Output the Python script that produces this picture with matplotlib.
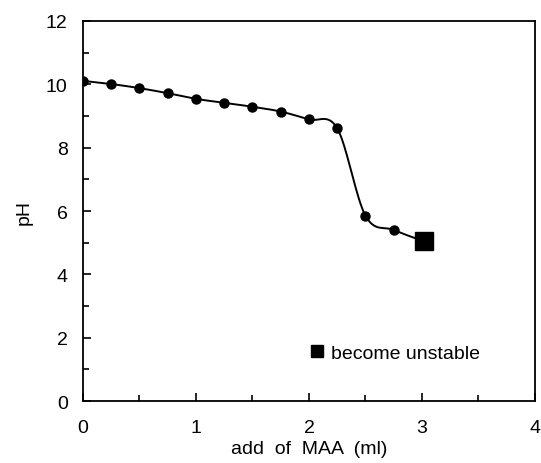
import numpy as np
import matplotlib.pyplot as plt
from matplotlib.ticker import MultipleLocator

plt.rcParams['font.family'] = ['Liberation Sans', 'DejaVu Sans']

# datos
maa = [0, 0.25, 0.5, 0.75, 1.0, 1.25, 1.5, 1.75, 2.0, 2.25, 2.5, 2.75]
ph = [10.11, 10.01, 9.88, 9.72, 9.54, 9.42, 9.29, 9.14, 8.89, 8.61, 5.85, 5.40]
maa_unstable = [3.02]
ph_unstable = [5.04]


def catmull_rom(x, y, n=30):
    # curva suavizada tipo Excel (Bezier con tangentes de los vecinos)
    p = np.column_stack([x, y])
    p = np.vstack([p[0], p, p[-1]])
    out = []
    for i in range(1, len(p) - 2):
        p0, p1, p2, p3 = p[i - 1], p[i], p[i + 1], p[i + 2]
        c1 = p1 + (p2 - p0) / 6
        c2 = p2 - (p3 - p1) / 6
        t = np.linspace(0, 1, n)[:, None]
        seg = (1 - t)**3 * p1 + 3 * (1 - t)**2 * t * c1 + 3 * (1 - t) * t**2 * c2 + t**3 * p2
        out.append(seg)
    out = np.vstack(out)
    return out[:, 0], out[:, 1]


xs, ys = catmull_rom(maa + maa_unstable, ph + ph_unstable)

fig = plt.figure(figsize=(5.41, 4.64), dpi=100)
ax = fig.add_axes([0.1534, 0.1336, 0.8355, 0.819])

ax.plot(xs, ys, color='black', lw=1.4, zorder=2)
ax.plot(maa, ph, 'o', color='black', ms=6.5, zorder=3)
ax.plot(maa_unstable, ph_unstable, 's', color='black', ms=13, zorder=3, label='become unstable')

ax.set_xlim(0, 4)
ax.set_ylim(0, 12)
ax.xaxis.set_major_locator(MultipleLocator(1))
ax.xaxis.set_minor_locator(MultipleLocator(0.5))
ax.yaxis.set_major_locator(MultipleLocator(2))
ax.yaxis.set_minor_locator(MultipleLocator(1))
ax.tick_params(which='both', direction='in', top=False, right=False, labelsize=14, width=1.2)
ax.tick_params(which='major', length=6)
ax.tick_params(which='minor', length=4)
ax.tick_params(axis='x', which='major', pad=13)
ax.tick_params(axis='y', which='major', pad=11)
for s in ax.spines.values():
    s.set_linewidth(1.3)

ax.set_xlabel('add  of  MAA  (ml)', fontsize=14)
ax.set_ylabel('pH', fontsize=14)
ax.xaxis.set_label_coords(0.5, -0.103)
ax.yaxis.set_label_coords(-0.112, 0.5)

ax.legend(loc='lower left', bbox_to_anchor=(0.483, 0.078), frameon=False, fontsize=14,
          markerscale=0.62, handlelength=0.6, handletextpad=0.45, borderpad=0)

fig.savefig('out.png', dpi=100)
